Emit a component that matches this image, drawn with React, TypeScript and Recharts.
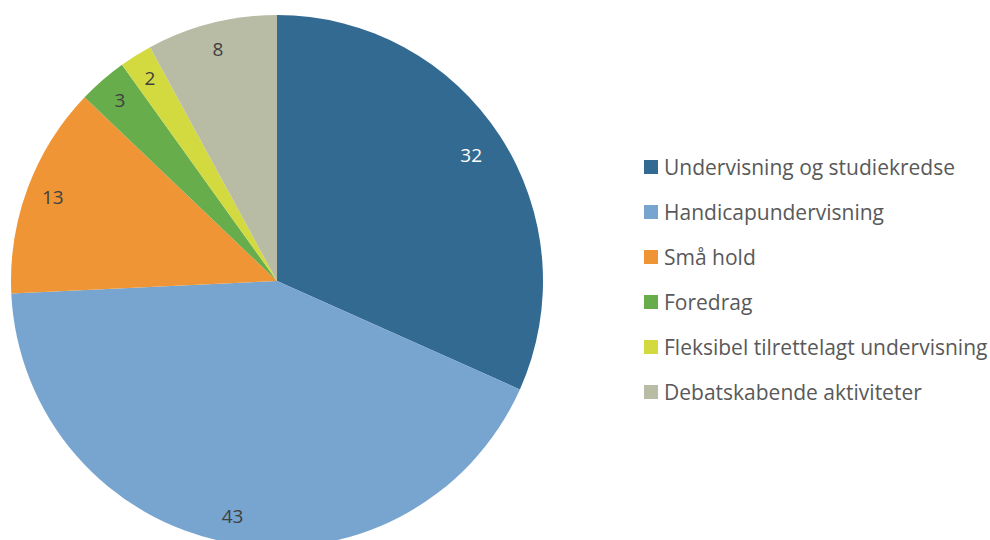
import { Legend, Pie, PieChart, Cell } from "recharts";

const categories = [
  "Undervisning og studiekredse",
  "Handicapundervisning",
  "Små hold",
  "Foredrag",
  "Fleksibel tilrettelagt undervisning",
  "Debatskabende aktiviteter",
];
const values = [32, 43, 13, 3, 2, 8];
const colors = ["#336A92", "#78A5CF", "#EF9535", "#68AD4C", "#D3DA3F", "#B8BCA5"];
const labelColors = ["#FFFFFF", "#404040", "#404040", "#404040", "#404040", "#404040"];

const data = categories.map((name, i) => ({ name, value: values[i] }));

const FONT = "'Open Sans', 'Noto Sans', sans-serif";
const RAD = Math.PI / 180;

function SliceLabel(props: any) {
  const { cx, cy, midAngle, outerRadius, index, value } = props;
  const r = outerRadius * (index === 0 ? 0.87 : 0.9);
  const x = cx + r * Math.cos(-midAngle * RAD);
  const y = cy + r * Math.sin(-midAngle * RAD);
  return (
    <text
      x={x}
      y={y}
      fill={labelColors[index]}
      fontSize={19}
      fontFamily={FONT}
      textAnchor="middle"
      dominantBaseline="central"
    >
      {value}
    </text>
  );
}

function LegendList() {
  return (
    <div style={{ fontFamily: FONT, fontSize: 21, color: "#595959" }}>
      {categories.map((c, i) => (
        <div key={c} style={{ display: "flex", alignItems: "center", height: 45 }}>
          <span
            style={{ width: 14, height: 14, background: colors[i], marginRight: 6, display: "inline-block", flex: "none" }}
          />
          <span style={{ whiteSpace: "nowrap" }}>{c}</span>
        </div>
      ))}
    </div>
  );
}

export default function App() {
  return (
    <div style={{ position: "absolute", left: 0, top: 0, width: 990, height: 540, background: "#fff" }}>
      <PieChart width={990} height={540} margin={{ top: 0, right: 0, bottom: 0, left: 0 }}>
        <Pie
          data={data}
          dataKey="value"
          nameKey="name"
          cx={277}
          cy={281}
          outerRadius={266}
          startAngle={90}
          endAngle={-270}
          stroke="none"
          label={SliceLabel}
          labelLine={false}
          isAnimationActive={false}
        >
          {data.map((d, i) => (
            <Cell key={d.name} fill={colors[i]} />
          ))}
        </Pie>
        <Legend
          layout="vertical"
          content={<LegendList />}
          wrapperStyle={{ position: "absolute", left: 644, top: 144, width: 346 }}
        />
      </PieChart>
    </div>
  );
}
